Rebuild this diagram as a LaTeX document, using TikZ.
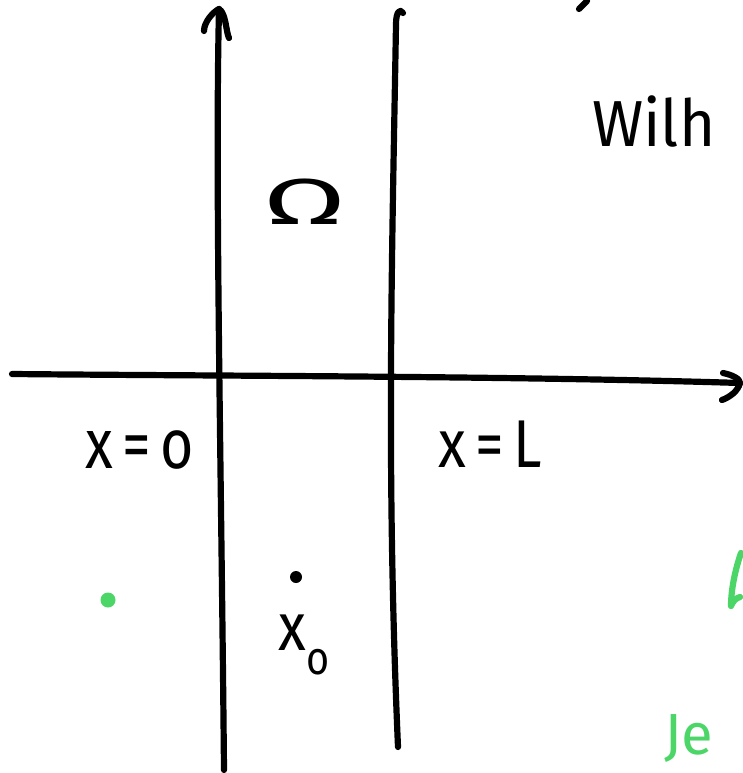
\documentclass[tikz,border=0pt]{standalone}
\usepackage{fontspec}
\setmainfont{Fira Sans}
\definecolor{penGreen}{RGB}{76,214,104}
\tikzset{
  pen/.style={line width=6.2pt, line cap=round, line join=round, black},
  greenpen/.style={pen, draw=penGreen},
  hand/.style={inner sep=0pt, font=\fontsize{52}{52}\selectfont},
  greenhand/.style={hand, text=penGreen},
}
\begin{document}
\begin{tikzpicture}[x=1pt,y=-1pt]
\useasboundingbox (0,0) rectangle (742,773);
% horizontal axis
\coordinate (hL) at (12,374);
\coordinate (hR) at (740,383);
\coordinate (hU) at (723,373);
\coordinate (hD) at (722,400);
\draw[pen] (hL) .. controls (220,376) and (520,376) .. (hR);
\draw[pen] (hU) .. controls (733,375) and (740,379) .. (hR) .. controls (738,391) and (730,397) .. (hD);
% left vertical axis with arrow
\coordinate (aB) at (224,770);
\coordinate (aT) at (219,9);
\coordinate (aL) at (204,31);
\coordinate (aR) at (229,38);
\draw[pen] (aB) .. controls (221,450) and (215,180) .. (aT);
\draw[pen] (aL) .. controls (204,22) and (213,12) .. (aT) .. controls (226,13) and (226,32) .. (aR);
% right vertical line x = L
\coordinate (bT) at (403,13);
\coordinate (bB) at (398,747);
\draw[pen] (bT) .. controls (400,8) and (396,12) .. (396,24) .. controls (392,260) and (386,470) .. (bB);
% labels
\node[hand, anchor=center] (omega) at (305,202) {\scalebox{2.3}[1.25]{Ω}};
\node[hand, anchor=center] (x0lab) at (140,450) {\scalebox{1.1}[1.35]{x\,=\,o}};
\node[hand, anchor=center] (xLlab) at (490,444) {\scalebox{1.1}[1.3]{x\,=\,L}};
\node[circle, fill=black, minimum size=12pt, inner sep=0pt] (pt) at (296,577) {};
\node[hand, anchor=center] (xzero) at (304,645) {\scalebox{1.1}[1.3]{x\raisebox{-0.35em}{\fontsize{36}{36}\selectfont o}}};
\node[hand, anchor=west, font=\fontsize{62}{62}\selectfont] (wilh) at (592,122) {\scalebox{1}[1.05]{Wilh}};
\node[greenhand, anchor=west, font=\fontsize{58}{58}\selectfont] (je) at (664,738) {Je};
\node[circle, fill=penGreen, minimum size=15pt, inner sep=0pt] (gdot) at (108,600) {};
% stray stroke fragments at the edges
\coordinate (sA) at (579,9);
\coordinate (sB) at (587,1);
\draw[pen] (sA) -- (sB);
\coordinate (gA) at (741,553);
\coordinate (gB) at (731,606);
\coordinate (gC) at (740,597);
\draw[greenpen] (gA) .. controls (735,570) and (731,590) .. (gB) .. controls (733,601) and (736,598) .. (gC);
\end{tikzpicture}
\end{document}
